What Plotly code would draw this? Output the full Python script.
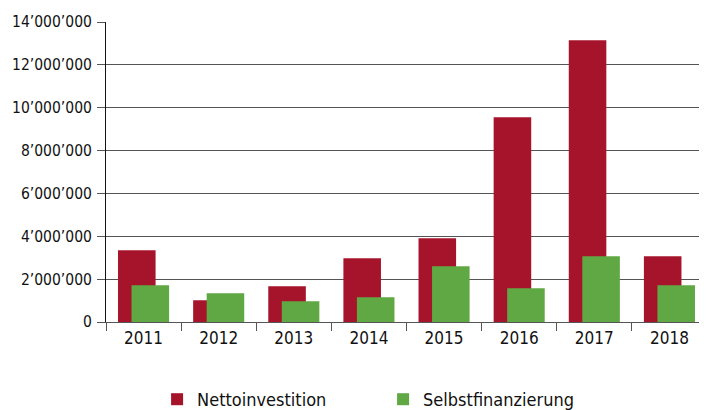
import plotly.graph_objects as go

years = ["2011", "2012", "2013", "2014", "2015", "2016", "2017", "2018"]
netto = [3350000, 1010000, 1670000, 2970000, 3910000, 9550000, 13150000, 3070000]
selbst = [1710000, 1340000, 970000, 1150000, 2600000, 1570000, 3070000, 1710000]
tick_vals = [0, 2000000, 4000000, 6000000, 8000000, 10000000, 12000000, 14000000]
tick_text = ["0", "2’000’000", "4’000’000", "6’000’000", "8’000’000",
             "10’000’000", "12’000’000", "14’000’000"]

FONT = "DejaVu Sans Condensed, Liberation Sans Narrow, Roboto Condensed, sans-serif"

fig = go.Figure()
fig.add_trace(go.Bar(x=years, y=netto, name="Nettoinvestition",
                     marker=dict(color="#A6142B", line=dict(width=0)),
                     width=0.5, offset=-0.34))
fig.add_trace(go.Bar(x=years, y=selbst, name="Selbstfinanzierung",
                     marker=dict(color="#5FA843", line=dict(width=0)),
                     width=0.5, offset=-0.16))

# page body has an 8px default margin, so the figure is offset by 8px
fig.update_layout(
    width=699, height=410,
    margin=dict(l=98, r=0, t=14, b=96),
    barmode="overlay",
    plot_bgcolor="white", paper_bgcolor="white",
    font=dict(family=FONT, size=17, color="#111"),
    showlegend=True,
    legend=dict(orientation="h", x=0.085, xanchor="left", y=-0.26, yanchor="middle",
                entrywidth=181, entrywidthmode="pixels",
                font=dict(family=FONT, size=18, color="#111")),
    xaxis=dict(type="category", range=[-0.5, 7.5], tickson="boundaries",
               ticks="outside", ticklen=8,
               tickcolor="#555", tickwidth=1.4, showline=True, linecolor="#555",
               linewidth=1.4, showgrid=False, tickfont=dict(size=17),
               automargin=False),
    yaxis=dict(range=[0, 14000000], tickvals=tick_vals, ticktext=tick_text,
               showgrid=True, gridcolor="#555", gridwidth=1.4, zeroline=False,
               showline=True, linecolor="#111", linewidth=1,
               ticks="outside", ticklen=8, tickcolor="#555", tickwidth=1.4,
               ticklabelstandoff=2, tickfont=dict(size=15.5), automargin=False),
)

fig.write_html("out.html")
